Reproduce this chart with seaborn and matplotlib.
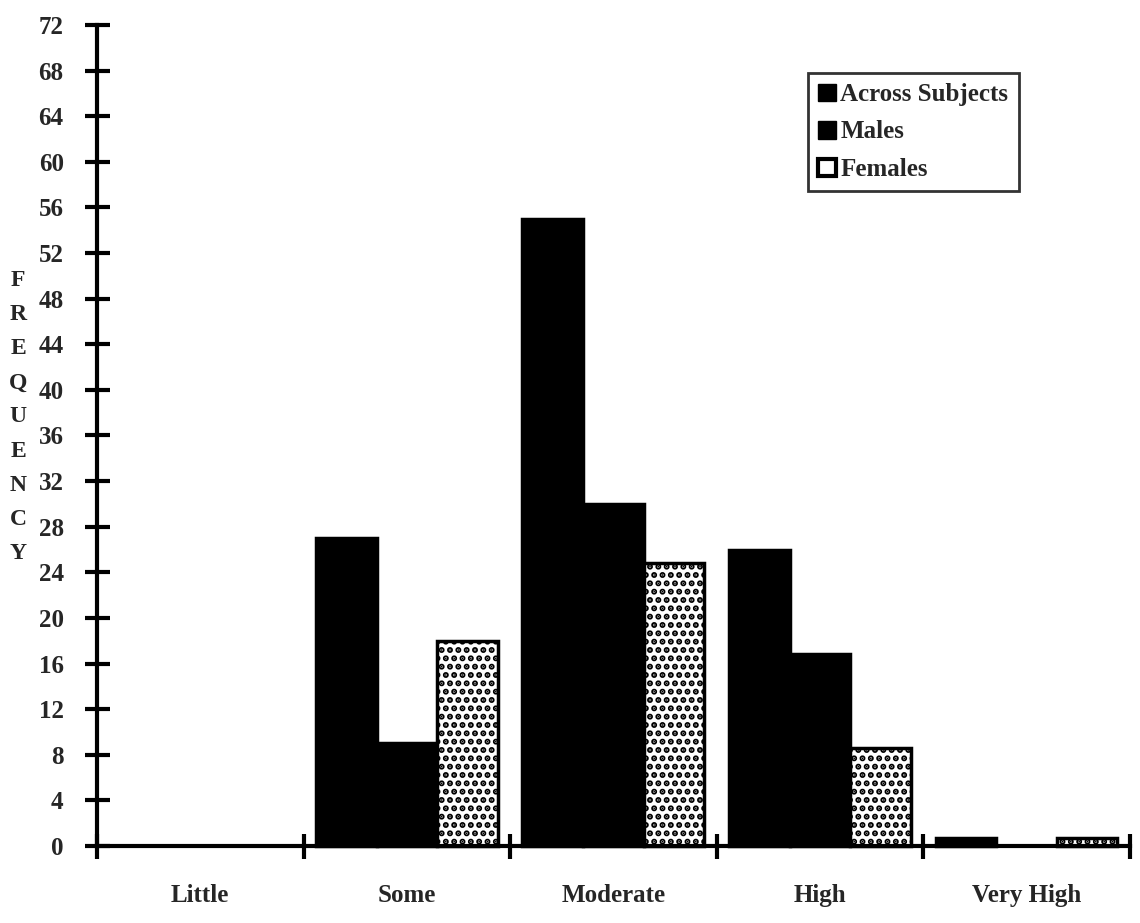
import matplotlib
matplotlib.use("Agg")
import matplotlib.pyplot as plt
from matplotlib.patches import Patch
import seaborn as sns
import pandas as pd
import numpy as np

categories = ["Little", "Some", "Moderate", "High", "Very High"]
series_names = ["Across Subjects", "Males", "Females"]
across = [0, 27, 55, 26, 0.7]
males = [0, 9, 30, 16.8, 0]
females = [0, 18, 24.8, 8.6, 0.7]
y_ticks = list(range(0, 73, 4))

rows = []
for name, vals in zip(series_names, [across, males, females]):
    for c, v in zip(categories, vals):
        rows.append({"Level": c, "Group": name, "Frequency": v})
df = pd.DataFrame(rows)

sns.set_theme(style="white")
plt.rcParams["font.family"] = ["Liberation Serif", "DejaVu Serif"]
plt.rcParams["font.weight"] = "bold"
plt.rcParams["hatch.linewidth"] = 3.0

fig = plt.figure(figsize=(11.4, 9.23), dpi=100)
ax = fig.add_axes([0.0851, 0.0834, 0.9059, 0.8896])

sns.barplot(data=df, x="Level", y="Frequency", hue="Group", order=categories,
            hue_order=series_names, palette=["black", "black", "white"],
            width=0.88, saturation=1, edgecolor="black", linewidth=2.5,
            ax=ax, legend=False)

n = len(categories)
for i, p in enumerate(ax.patches):
    if 2 * n <= i < 3 * n:
        p.set_hatch("..")
        p.set_facecolor("white")
    if p.get_height() == 0:
        p.set_linewidth(0)

ax.set_xlim(-0.5, n - 0.5)
ax.set_ylim(0, 72)
ax.set_yticks(y_ticks)
ax.set_yticklabels([str(t) for t in y_ticks], fontsize=18, fontweight="bold")
ax.set_xticks(range(n))
ax.set_xticklabels(categories, fontsize=18, fontweight="bold")
ax.set_xticks(np.arange(-0.5, n, 1.0), minor=True)
ax.tick_params(axis="x", which="major", bottom=True, length=0, pad=27)
ax.tick_params(axis="x", which="minor", bottom=True, direction="inout", length=18, width=3, color="black")
ax.tick_params(axis="y", which="major", left=True, direction="inout", length=18, width=3, color="black", pad=15)
ax.set_xlabel("")
ax.set_ylabel("")
for s in ["top", "right"]:
    ax.spines[s].set_visible(False)
for s in ["left", "bottom"]:
    ax.spines[s].set_linewidth(3)
    ax.spines[s].set_color("black")
for p in ax.patches:
    p.set_clip_on(False)

fig.text(18 / 1140, 1 - 417 / 923, "\n".join("FREQUENCY"), ha="center", va="center",
         fontsize=17, fontweight="bold", linespacing=1.82)

handles = [Patch(facecolor="black", edgecolor="black", lw=1),
           Patch(facecolor="black", edgecolor="black", lw=1),
           Patch(facecolor="white", edgecolor="black", lw=3)]
leg = ax.legend(handles, series_names, loc="upper left",
                bbox_to_anchor=(808 / 1140, 1 - 73 / 923), bbox_transform=fig.transFigure,
                prop={"family": "Liberation Serif", "weight": "bold", "size": 18},
                frameon=True, fancybox=False, edgecolor="black", handlelength=0.7,
                handleheight=0.7, handletextpad=0.2, borderpad=0.4, labelspacing=0.58,
                borderaxespad=0)
leg.get_frame().set_linewidth(2)

fig.savefig("out.png", dpi=100, facecolor="white")
